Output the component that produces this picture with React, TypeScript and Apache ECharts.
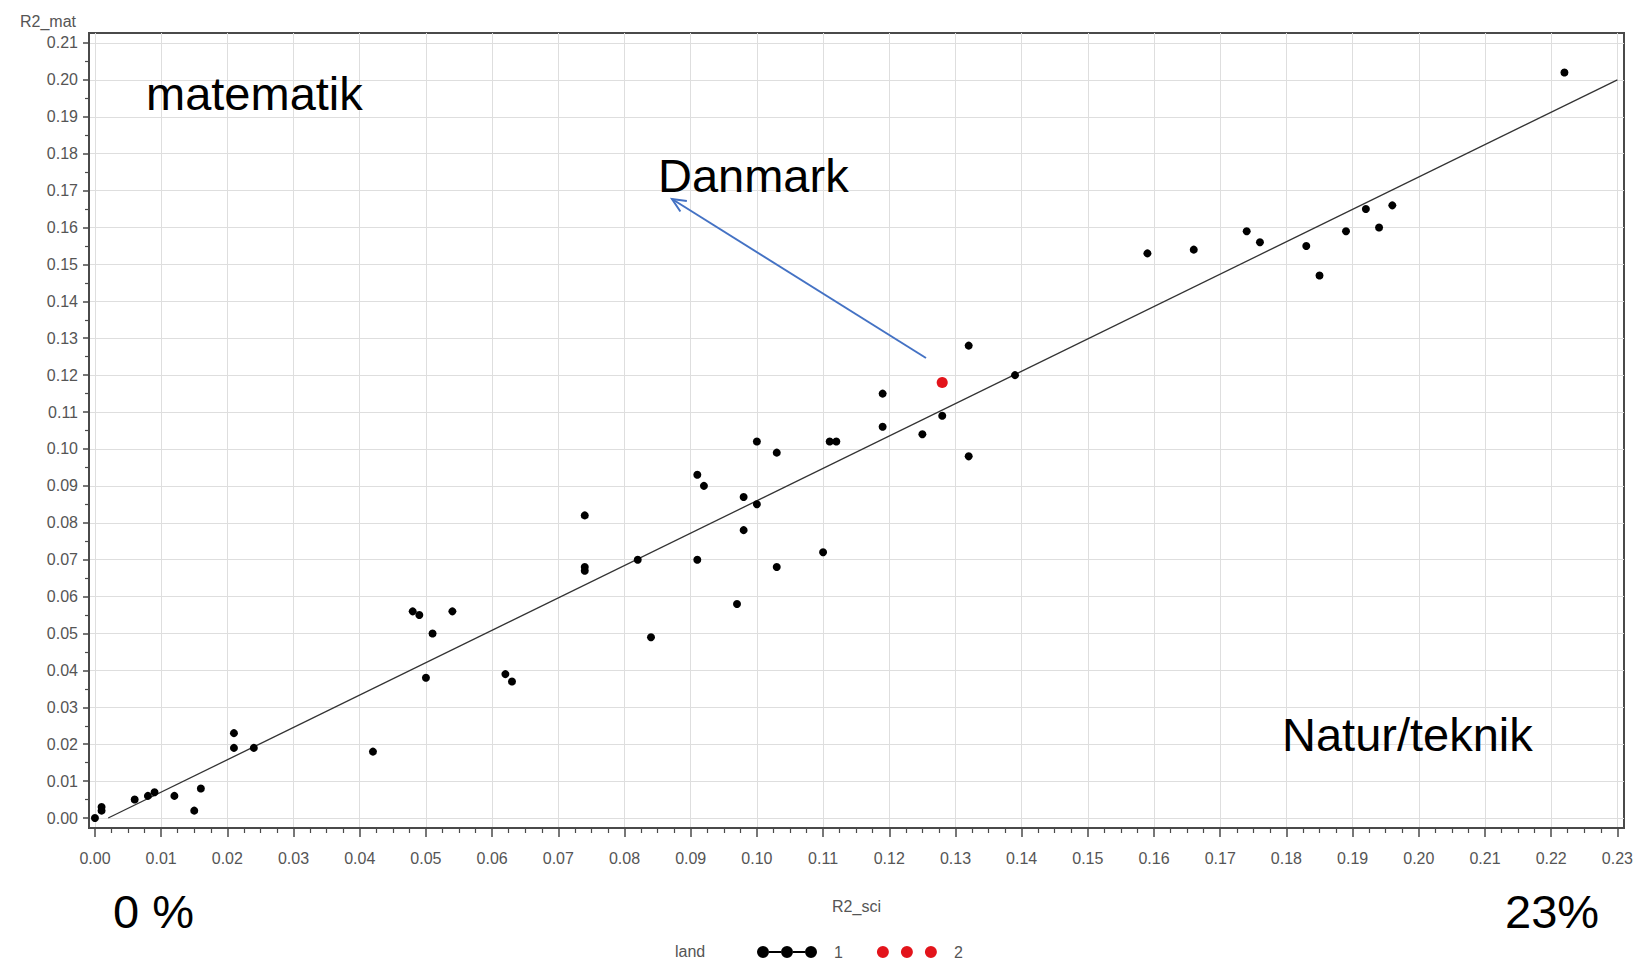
import React, { useEffect, useRef } from "react";
import * as echarts from "echarts";

// Country-level R² values: science (x) vs. mathematics (y)
const land1Sci = [
  0.0, 0.001, 0.001, 0.006, 0.008, 0.009, 0.012, 0.015, 0.016, 0.021, 0.021, 0.024,
  0.042, 0.048, 0.049, 0.054, 0.051, 0.05, 0.062, 0.063, 0.074, 0.074, 0.074, 0.082,
  0.084, 0.091, 0.092, 0.091, 0.097, 0.098, 0.1, 0.098, 0.103, 0.103, 0.1, 0.11,
  0.111, 0.112, 0.119, 0.119, 0.125, 0.128, 0.132, 0.132, 0.139, 0.159, 0.166, 0.174,
  0.176, 0.183, 0.185, 0.189, 0.192, 0.194, 0.196, 0.222,
];
const land1Mat = [
  0.0, 0.003, 0.002, 0.005, 0.006, 0.007, 0.006, 0.002, 0.008, 0.023, 0.019, 0.019,
  0.018, 0.056, 0.055, 0.056, 0.05, 0.038, 0.039, 0.037, 0.082, 0.068, 0.067, 0.07,
  0.049, 0.093, 0.09, 0.07, 0.058, 0.087, 0.085, 0.078, 0.068, 0.099, 0.102, 0.072,
  0.102, 0.102, 0.115, 0.106, 0.104, 0.109, 0.128, 0.098, 0.12, 0.153, 0.154, 0.159,
  0.156, 0.155, 0.147, 0.159, 0.165, 0.16, 0.166, 0.202,
];

// Denmark
const land2Sci = [0.128];
const land2Mat = [0.118];

// Fitted line end points
const fitSci = [0.002, 0.23];
const fitMat = [0.0, 0.2];

const xTickLabels = [
  "0.00", "0.01", "0.02", "0.03", "0.04", "0.05", "0.06", "0.07", "0.08", "0.09", "0.10", "0.11",
  "0.12", "0.13", "0.14", "0.15", "0.16", "0.17", "0.18", "0.19", "0.20", "0.21", "0.22", "0.23",
];
const yTickLabels = [
  "0.00", "0.01", "0.02", "0.03", "0.04", "0.05", "0.06", "0.07", "0.08", "0.09", "0.10",
  "0.11", "0.12", "0.13", "0.14", "0.15", "0.16", "0.17", "0.18", "0.19", "0.20", "0.21",
];

const legendNames = ["1", "2"];

const xMajor = xTickLabels.map(Number);
const yMajor = yTickLabels.map(Number);
// minor ticks: three between x majors, one between y majors
const xMinor: number[] = [];
xMajor.slice(0, -1).forEach((v) => {
  [0.0025, 0.005, 0.0075].forEach((d) => xMinor.push(Math.round((v + d) * 10000) / 10000));
});
const yMinor = yMajor.slice(0, -1).map((v) => Math.round((v + 0.005) * 1000) / 1000);

const X_MIN = -0.0009;
const X_MAX = 0.231;
const Y_MIN = -0.0027;
const Y_MAX = 0.2127;

const FONT = "'Liberation Sans', Arial, sans-serif";
const AXIS_DARK = "#4a4a4a";
const LABEL_GRAY = "#555";

const ICON_LINKED =
  "path://M0,6a6,6 0 1,0 12,0a6,6 0 1,0 -12,0Z M24,6a6,6 0 1,0 12,0a6,6 0 1,0 -12,0Z M48,6a6,6 0 1,0 12,0a6,6 0 1,0 -12,0Z M12,5h12v2h-12Z M36,5h12v2h-12Z";
const ICON_DOTS =
  "path://M0,6a6,6 0 1,0 12,0a6,6 0 1,0 -12,0Z M24,6a6,6 0 1,0 12,0a6,6 0 1,0 -12,0Z M48,6a6,6 0 1,0 12,0a6,6 0 1,0 -12,0Z";

function arrowHead(x1: number, y1: number, x2: number, y2: number, len: number, angDeg: number) {
  const dx = x1 - x2;
  const dy = y1 - y2;
  const l = Math.hypot(dx, dy);
  const bx = dx / l;
  const by = dy / l;
  const a = (angDeg * Math.PI) / 180;
  const c = Math.cos(a);
  const s = Math.sin(a);
  const w1 = [x2 + len * (bx * c - by * s), y2 + len * (bx * s + by * c)];
  const w2 = [x2 + len * (bx * c + by * s), y2 + len * (-bx * s + by * c)];
  return [w1, [x2, y2], w2];
}

export default function App() {
  const ref = useRef<HTMLDivElement>(null);

  useEffect(() => {
    if (!ref.current) return;
    const chart = echarts.init(ref.current, null, { renderer: "svg" });

    const bigText = { fontSize: 47, fontFamily: FONT, fill: "#000" };
    const arrowStart = [926, 358];
    const arrowEnd = [672, 199];

    const option: any = {
      animation: false,
      backgroundColor: "#ffffff",
      textStyle: { fontFamily: FONT },
      grid: {
        left: 89,
        right: 22,
        top: 33,
        bottom: 138,
        show: true,
        borderColor: AXIS_DARK,
        borderWidth: 2,
        backgroundColor: "#ffffff",
      },
      xAxis: [
        {
          type: "value",
          min: X_MIN,
          max: X_MAX,
          position: "bottom",
          name: "R2_sci",
          nameLocation: "middle",
          nameGap: 78,
          nameTextStyle: { fontSize: 16, color: LABEL_GRAY, verticalAlign: "middle" },
          axisLine: { show: true, onZero: false, lineStyle: { color: AXIS_DARK, width: 2 } },
          axisTick: { show: true, customValues: xMajor, length: 9, lineStyle: { color: AXIS_DARK, width: 1.5 } },
          axisLabel: {
            customValues: xMajor,
            formatter: (v: number) => v.toFixed(2),
            fontSize: 16,
            color: LABEL_GRAY,
            margin: 22,
          },
          splitLine: { show: true, lineStyle: { color: "#dedede", width: 1 } },
        },
        {
          type: "value",
          min: X_MIN,
          max: X_MAX,
          position: "bottom",
          axisLine: { show: false, onZero: false },
          axisTick: { show: true, customValues: xMinor, length: 5, lineStyle: { color: AXIS_DARK, width: 1.2 } },
          axisLabel: { show: false },
          splitLine: { show: false },
        },
      ],
      yAxis: [
        {
          type: "value",
          min: Y_MIN,
          max: Y_MAX,
          position: "left",
          name: "R2_mat",
          nameLocation: "end",
          nameGap: 12,
          nameTextStyle: {
            fontSize: 16,
            color: LABEL_GRAY,
            align: "right",
            verticalAlign: "middle",
            padding: [0, 13, 0, 0],
          },
          axisLine: { show: true, onZero: false, lineStyle: { color: AXIS_DARK, width: 2 } },
          axisTick: { show: true, customValues: yMajor, length: 6, lineStyle: { color: AXIS_DARK, width: 1.5 } },
          axisLabel: {
            customValues: yMajor,
            formatter: (v: number) => v.toFixed(2),
            fontSize: 16,
            color: LABEL_GRAY,
            margin: 11,
          },
          splitLine: { show: true, lineStyle: { color: "#dedede", width: 1 } },
        },
        {
          type: "value",
          min: Y_MIN,
          max: Y_MAX,
          position: "left",
          axisLine: { show: false, onZero: false },
          axisTick: { show: true, customValues: yMinor, length: 4, lineStyle: { color: AXIS_DARK, width: 1.2 } },
          axisLabel: { show: false },
          splitLine: { show: false },
        },
      ],
      legend: {
        data: [
          { name: legendNames[0], icon: ICON_LINKED },
          { name: legendNames[1], icon: ICON_DOTS },
        ],
        left: 752,
        top: 939,
        itemWidth: 60,
        itemHeight: 13,
        itemGap: 34,
        selectedMode: false,
        textStyle: { fontSize: 16, color: LABEL_GRAY, padding: [0, 0, 0, 12] },
      },
      series: [
        {
          name: "fit",
          type: "line",
          data: fitSci.map((x, i) => [x, fitMat[i]]),
          symbol: "none",
          lineStyle: { color: "#333", width: 1.3 },
          z: 2,
        },
        {
          name: legendNames[0],
          type: "scatter",
          data: land1Sci.map((x, i) => [x, land1Mat[i]]),
          symbol: "circle",
          symbolSize: 8,
          itemStyle: { color: "#000", opacity: 1 },
          z: 3,
        },
        {
          name: legendNames[1],
          type: "scatter",
          data: land2Sci.map((x, i) => [x, land2Mat[i]]),
          symbol: "circle",
          symbolSize: 11,
          itemStyle: { color: "#e3141b", opacity: 1 },
          z: 4,
        },
      ],
      graphic: [
        { type: "text", left: 146, top: 94 - 24, style: { ...bigText, text: "matematik" }, z: 10 },
        { type: "text", left: 658, top: 176 - 24, style: { ...bigText, text: "Danmark" }, z: 10 },
        { type: "text", left: 1282, top: 735 - 24, style: { ...bigText, text: "Natur/teknik" }, z: 10 },
        { type: "text", left: 113, top: 912 - 24, style: { ...bigText, text: "0 %" }, z: 10 },
        { type: "text", left: 1505, top: 912 - 24, style: { ...bigText, text: "23%" }, z: 10 },
        {
          type: "text",
          left: 675,
          top: 943,
          style: { text: "land", fontSize: 16, fontFamily: FONT, fill: LABEL_GRAY },
          z: 10,
        },
        {
          type: "line",
          shape: { x1: arrowStart[0], y1: arrowStart[1], x2: arrowEnd[0], y2: arrowEnd[1] },
          style: { stroke: "#4472c4", lineWidth: 2 },
          z: 10,
        },
        {
          type: "polyline",
          shape: { points: arrowHead(arrowStart[0], arrowStart[1], arrowEnd[0], arrowEnd[1], 15, 24) },
          style: { stroke: "#4472c4", lineWidth: 2, fill: "none" },
          z: 10,
        },
      ],
    };

    chart.setOption(option);
    return () => chart.dispose();
  }, []);

  return (
    <div
      ref={ref}
      style={{ position: "absolute", left: 0, top: 0, width: 1646, height: 966, background: "#fff" }}
    />
  );
}
